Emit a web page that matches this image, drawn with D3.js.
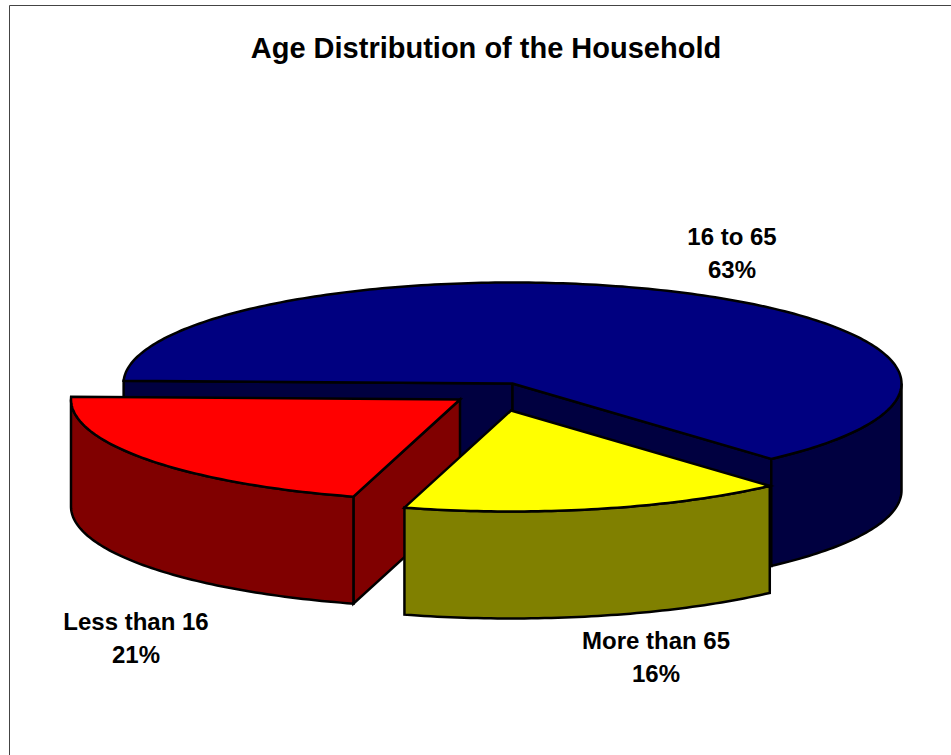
<!DOCTYPE html>
<html>
<head>
<meta charset="utf-8">
<script src="https://cdn.jsdelivr.net/npm/d3@7"></script>
<style>
html,body{margin:0;padding:0;background:#fff;overflow:hidden}
svg{display:block}
text{font-family:"Liberation Sans",Arial,sans-serif;font-weight:bold;fill:#000}
</style>
</head>
<body>
<svg id="chart" width="951" height="755"></svg>
<script>
const categories = ["16 to 65", "More than 65", "Less than 16"];
const values = [63, 16, 21];
const topColors = ["#000080", "#ffff00", "#ff0000"];
const wallColors = ["#000040", "#808000", "#800000"];
const title = "Age Distribution of the Household";

const cx = 512.5, cy = 383.5, rx = 389, ry = 101, depth = 107;
const explode = [[0, 0], [-1.5, 27], [-52.5, 16]];
const labelPos = [[732, 245], [656, 649], [136, 630]];
const startDeg = -88.5;

const svg = d3.select("#chart");
svg.append("path")
  .attr("d", "M9.5 755V5.5H951")
  .attr("fill", "none").attr("stroke", "#444").attr("stroke-width", 1);

svg.append("text").attr("x", 486).attr("y", 58).attr("text-anchor", "middle")
  .attr("font-size", 29).text(title);

const pie = d3.pie().sort(null)
  .startAngle(startDeg * Math.PI / 180)
  .endAngle((startDeg + 360) * Math.PI / 180);
const arcs = pie(values);

const sx = d3.scaleLinear().domain([-1, 1]).range([cx - rx, cx + rx]);
const sy = d3.scaleLinear().domain([-1, 1]).range([cy - ry, cy + ry]);
const line = d3.line();

function pt(a, i, z) {
  return [sx(Math.sin(a)) + explode[i][0], sy(-Math.cos(a)) + explode[i][1] + z];
}
function apex(i, z) {
  return [sx(0) + explode[i][0], sy(0) + explode[i][1] + z];
}
function angles(a0, a1) {
  const n = Math.max(2, Math.ceil(Math.abs(a1 - a0) * 180 / Math.PI));
  return d3.range(n + 1).map(k => a0 + (a1 - a0) * k / n);
}
const g = svg.append("g").attr("stroke", "#000").attr("stroke-width", 2.5).attr("stroke-linejoin", "miter");

function poly(points, fill) {
  g.append("path").attr("d", line(points) + "Z").attr("fill", fill);
}
function rim(i, a0, a1) {
  const top = angles(a0, a1).map(a => pt(a, i, 0));
  const bot = angles(a1, a0).map(a => pt(a, i, depth));
  poly(top.concat(bot), wallColors[i]);
}
function radialWall(i, a) {
  poly([apex(i, 0), pt(a, i, 0), pt(a, i, depth), apex(i, depth)], wallColors[i]);
}
function topFace(i) {
  const d = arcs[i];
  poly([apex(i, 0)].concat(angles(d.startAngle, d.endAngle).map(a => pt(a, i, 0))), topColors[i]);
}

// back slice
const b = arcs[0];
radialWall(0, b.startAngle);
radialWall(0, b.endAngle);
rim(0, Math.PI / 2, b.endAngle);
topFace(0);

// red slice
const r = arcs[2];
radialWall(2, r.startAngle);
rim(2, r.startAngle, Math.min(r.endAngle, 3 * Math.PI / 2));
topFace(2);

// yellow slice
const y = arcs[1];
rim(1, y.startAngle, y.endAngle);
topFace(1);

categories.forEach((c, i) => {
  const t = svg.append("text").attr("text-anchor", "middle").attr("font-size", 24);
  t.append("tspan").attr("x", labelPos[i][0]).attr("y", labelPos[i][1]).text(c);
  t.append("tspan").attr("x", labelPos[i][0]).attr("y", labelPos[i][1] + 33).text(values[i] + "%");
});
</script>
</body>
</html>
